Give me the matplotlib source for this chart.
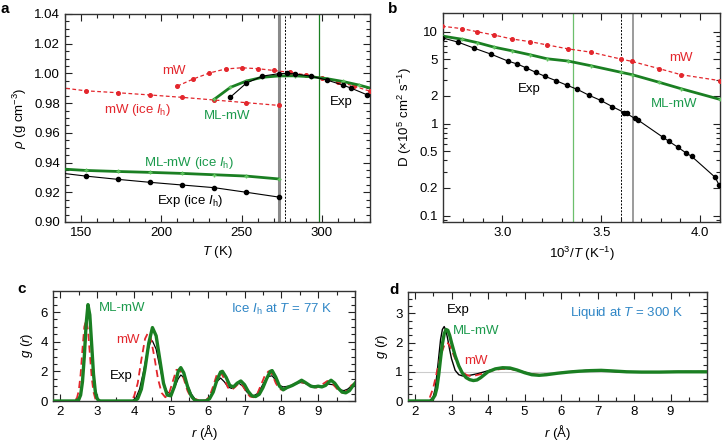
import numpy as np
import matplotlib
matplotlib.use("Agg")
import matplotlib.pyplot as plt
from matplotlib.ticker import MultipleLocator, FixedLocator, NullFormatter, LogLocator

plt.rcParams['font.family'] = ['Liberation Sans', 'DejaVu Sans']
plt.rcParams['mathtext.fontset'] = 'custom'
plt.rcParams['mathtext.rm'] = 'Liberation Sans'
plt.rcParams['mathtext.it'] = 'Liberation Sans:italic'
plt.rcParams['mathtext.bf'] = 'Liberation Sans:bold'
plt.rcParams['font.size'] = 9.5

RED = '#e3262c'
GREEN = '#1a7f22'
GTEXT = '#1b9a4c'
BLUE = '#2f86c6'
GRAY = '#8a8a8a'

# ---------------- panel a data ----------------
T_ice = [153, 173, 193, 213, 233, 253, 273]
rho_exp_ice = [0.9309, 0.9287, 0.9267, 0.9249, 0.9231, 0.9200, 0.9168]
rho_mlmw_ice = [0.9347, 0.9340, 0.9334, 0.9327, 0.9318, 0.9309, 0.9290]
rho_mw_ice = [0.9883, 0.9870, 0.9855, 0.9839, 0.9821, 0.9803, 0.9785]
T_ice_edge = [133]
rho_exp_ice_edge = [0.9335]
rho_mlmw_ice_edge = [0.9360]
rho_mw_ice_edge = [0.9910]

T_mw_liq = [210, 220, 230, 240, 250, 260, 270, 280, 290, 300, 310, 320, 330]
rho_mw_liq = [0.9915, 0.9963, 1.0003, 1.0030, 1.0038, 1.0032, 1.0020, 1.0007, 0.9990, 0.9970, 0.9945, 0.9915, 0.9880]

T_ml_liq = [233, 243, 253, 263, 273, 283, 293, 303, 313, 323, 333]
rho_ml_liq = [0.9826, 0.9906, 0.9949, 0.9974, 0.9983, 0.9984, 0.9978, 0.9965, 0.9946, 0.9922, 0.9893]

T_exp_liq = [243, 253, 263, 273, 278, 283, 293, 303, 313, 318, 328]
rho_exp_liq = [0.9840, 0.9935, 0.9982, 0.9998, 1.0000, 0.9997, 0.9982, 0.9956, 0.9922, 0.9902, 0.9857]

# ---------------- panel b data ----------------
invT_mw = [2.695, 2.797, 2.874, 2.959, 3.049, 3.141, 3.226, 3.332, 3.447, 3.600, 3.656, 3.792, 3.903, 4.098]
D_mw = [11.5, 10.8, 10.0, 9.2, 8.34, 7.8, 7.19, 6.51, 6.0, 5.04, 4.75, 3.97, 3.41, 2.94]
invT_ml = [2.695, 2.797, 2.874, 2.959, 3.049, 3.141, 3.226, 3.332, 3.447, 3.600, 3.656, 3.792, 3.903, 4.098]
D_ml = [9.0, 8.28, 7.61, 6.79, 6.2, 5.61, 5.08, 4.80, 4.27, 3.62, 3.41, 2.82, 2.40, 1.84]
invT_exp = [2.695, 2.777, 2.858, 2.943, 3.028, 3.076, 3.122, 3.168, 3.216, 3.270, 3.326, 3.379, 3.437,
            3.497, 3.556, 3.616, 3.628, 3.669, 3.684, 3.812, 3.843, 3.889, 3.928, 3.957, 4.076, 4.095]
D_exp = [8.6, 7.7, 6.62, 5.70, 4.80, 4.45, 4.03, 3.62, 3.27, 2.94, 2.62, 2.36, 2.04,
         1.79, 1.53, 1.32, 1.29, 1.14, 1.10, 0.71, 0.64, 0.55, 0.48, 0.44, 0.26, 0.215]

# ---------------- panel c data (ice Ih, 77 K) ----------------
r_c_ml = [1.8, 2.4, 2.5, 2.55, 2.6, 2.65, 2.7, 2.75, 2.8, 2.85, 2.9, 2.95, 3.0, 3.05, 3.1,
          4.0, 4.1, 4.2, 4.3, 4.4, 4.5, 4.6, 4.7, 4.8, 4.9, 5.0, 5.1, 5.2, 5.27, 5.35, 5.45, 5.55, 5.65, 5.75,
          5.95, 6.05, 6.15, 6.25, 6.35, 6.4, 6.5, 6.6, 6.7, 6.8, 6.9, 7.0, 7.1, 7.2, 7.3, 7.4, 7.5, 7.6,
          7.7, 7.75, 7.85, 7.95, 8.05, 8.15, 8.3, 8.45, 8.55, 8.65, 8.8, 8.9, 9.0, 9.1, 9.2, 9.3, 9.35,
          9.45, 9.55, 9.65, 9.75, 9.85, 9.95, 10.0]
g_c_ml = [0, 0, 0.1, 0.4, 1.3, 3.0, 5.2, 6.5, 5.8, 3.8, 1.8, 0.6, 0.15, 0.02, 0,
          0, 0.15, 0.8, 2.2, 3.9, 4.95, 4.4, 2.8, 1.2, 0.4, 0.35, 1.0, 2.0, 2.25, 1.9, 1.0, 0.35, 0.05, 0,
          0, 0.15, 0.6, 1.4, 1.95, 2.0, 1.6, 1.05, 0.95, 1.2, 1.35, 1.1, 0.65, 0.35, 0.3, 0.45, 0.9, 1.5,
          2.0, 2.05, 1.6, 1.0, 0.75, 0.9, 1.05, 1.25, 1.4, 1.25, 1.0, 0.95, 1.0, 0.95, 1.05, 1.3, 1.4,
          1.2, 0.85, 0.6, 0.55, 0.7, 1.05, 1.2]
r_c_mw = [1.8, 2.35, 2.45, 2.5, 2.55, 2.6, 2.65, 2.7, 2.75, 2.8, 2.85, 2.9, 2.95, 3.0,
          3.9, 4.0, 4.1, 4.2, 4.3, 4.38, 4.45, 4.55, 4.65, 4.75, 4.85, 4.95, 5.05, 5.15, 5.25, 5.35, 5.45, 5.55,
          5.85, 5.95, 6.05, 6.15, 6.25, 6.35, 6.45, 6.55, 6.65, 6.75, 6.85, 6.95, 7.05, 7.15, 7.25, 7.35,
          7.45, 7.55, 7.65, 7.75, 7.85, 7.95, 8.05, 8.2, 8.35, 8.5, 8.65, 8.8, 8.95, 9.1, 9.25, 9.4, 9.5,
          9.6, 9.7, 9.8, 9.9, 10.0]
g_c_mw = [0, 0, 0.2, 0.7, 1.8, 3.5, 5.0, 5.45, 4.8, 3.2, 1.6, 0.6, 0.15, 0,
          0, 0.3, 1.2, 2.8, 4.2, 4.6, 4.3, 3.0, 1.5, 0.55, 0.25, 0.5, 1.3, 2.1, 2.1, 1.5, 0.7, 0.2,
          0, 0.05, 0.3, 1.0, 1.8, 1.95, 1.5, 0.9, 0.75, 0.95, 1.2, 1.05, 0.6, 0.3, 0.25, 0.5,
          1.1, 1.7, 2.0, 1.8, 1.2, 0.8, 0.75, 0.95, 1.15, 1.3, 1.2, 1.0, 0.9, 1.1, 1.35, 1.15, 0.85,
          0.6, 0.55, 0.75, 1.05, 1.2]
r_c_exp = [1.8, 2.4, 2.5, 2.55, 2.6, 2.65, 2.7, 2.75, 2.8, 2.85, 2.9, 2.95, 3.0, 3.05, 3.1,
           3.95, 4.05, 4.15, 4.25, 4.35, 4.45, 4.5, 4.6, 4.7, 4.8, 4.9, 5.0, 5.1, 5.2, 5.27, 5.35, 5.45, 5.55, 5.65,
           5.75, 5.95, 6.05, 6.15, 6.25, 6.35, 6.45, 6.55, 6.65, 6.75, 6.85, 6.95, 7.05, 7.15, 7.25, 7.35,
           7.45, 7.55, 7.65, 7.75, 7.85, 7.95, 8.05, 8.2, 8.35, 8.5, 8.65, 8.8, 8.95, 9.1, 9.25, 9.4, 9.5,
           9.6, 9.7, 9.8, 9.9, 10.0]
g_c_exp = [0, 0, 0.15, 0.5, 1.3, 2.8, 4.6, 5.8, 5.5, 3.8, 2.0, 0.8, 0.25, 0.05, 0,
           0, 0.2, 0.8, 1.9, 3.2, 4.0, 4.05, 3.5, 2.3, 1.2, 0.6, 0.5, 0.9, 1.5, 1.75, 1.6, 1.1, 0.5, 0.15,
           0.05, 0.05, 0.2, 0.7, 1.3, 1.55, 1.3, 0.95, 0.85, 1.05, 1.2, 1.0, 0.65, 0.4, 0.35, 0.5,
           0.9, 1.35, 1.65, 1.7, 1.4, 1.05, 0.95, 1.0, 1.1, 1.25, 1.2, 1.05, 1.0, 1.0, 1.15, 1.1, 0.9,
           0.75, 0.7, 0.8, 1.0, 1.1]

# ---------------- panel d data (liquid, 300 K) ----------------
r_d_exp = [1.8, 2.4, 2.5, 2.55, 2.6, 2.65, 2.7, 2.75, 2.8, 2.85, 2.9, 2.95, 3.0, 3.1, 3.2, 3.3, 3.4, 3.5,
           3.7, 3.9, 4.1, 4.3, 4.5, 4.7, 4.9, 5.1, 5.3, 5.5, 5.8, 6.1, 6.4, 6.7, 7.0, 7.3, 7.6, 8.0, 8.5, 9.0, 9.5, 10.0]
g_d_exp = [0, 0, 0.15, 0.4, 0.9, 1.5, 2.1, 2.45, 2.55, 2.4, 2.1, 1.75, 1.45, 1.05, 0.9, 0.86, 0.86, 0.88,
           0.93, 1.0, 1.07, 1.1, 1.11, 1.08, 1.02, 0.95, 0.9, 0.89, 0.93, 0.98, 1.02, 1.05, 1.04, 1.02, 1.0, 0.99, 0.99, 1.0, 1.0, 1.0]
r_d_ml = [1.8, 2.45, 2.55, 2.6, 2.65, 2.7, 2.75, 2.8, 2.85, 2.9, 2.95, 3.0, 3.1, 3.2, 3.3, 3.4, 3.5, 3.6,
          3.7, 3.8, 3.9, 4.0, 4.2, 4.4, 4.6, 4.8, 5.0, 5.2, 5.4, 5.6, 5.9, 6.2, 6.5, 6.8, 7.1, 7.4, 7.8, 8.2, 8.7, 9.2, 9.7, 10.0]
g_d_ml = [0, 0, 0.2, 0.45, 0.9, 1.45, 1.95, 2.3, 2.45, 2.42, 2.25, 2.0, 1.55, 1.2, 0.95, 0.8, 0.73, 0.7,
          0.72, 0.8, 0.9, 1.0, 1.1, 1.14, 1.13, 1.06, 0.97, 0.9, 0.88, 0.9, 0.95, 0.99, 1.02, 1.04, 1.05, 1.03, 1.0, 0.99, 0.99, 1.0, 1.0, 1.0]
r_d_mw = [1.8, 2.3, 2.4, 2.5, 2.6, 2.7, 2.8, 2.85, 2.9, 2.95, 3.0, 3.1, 3.2, 3.3, 3.4, 3.5, 3.6, 3.8,
          4.0, 4.2, 4.4, 4.6, 4.8, 5.0, 5.2, 5.4, 5.7, 6.0, 6.4, 6.8, 7.2, 7.6, 8.0, 8.5, 9.0, 9.5, 10.0]
g_d_mw = [0, 0, 0.1, 0.45, 1.0, 1.55, 1.9, 2.0, 1.98, 1.9, 1.75, 1.45, 1.2, 1.0, 0.9, 0.86, 0.86, 0.92,
          1.0, 1.07, 1.1, 1.1, 1.05, 0.98, 0.92, 0.9, 0.92, 0.97, 1.02, 1.04, 1.03, 1.01, 0.99, 0.99, 1.0, 1.0, 1.0]

fig = plt.figure(figsize=(7.22, 4.45), dpi=100)

def style(ax):
    ax.tick_params(which='both', direction='in', top=True, right=True, colors='#222222',
                   labelcolor='black', width=0.8)
    ax.tick_params(which='major', length=5)
    ax.tick_params(which='minor', length=3)
    for s in ax.spines.values():
        s.set_linewidth(1.0)
        s.set_color('#333333')

# ---------------- panel a ----------------
axa = fig.add_axes([65/722, 1-222/445, 305/722, 208/445])
style(axa)
axa.axvline(273.15, color=GRAY, lw=2.2, zorder=1)
axa.axvline(277, color='black', lw=0.7, ls=(0, (2, 1.5)), zorder=1)
axa.axvline(298, color=GREEN, lw=0.9, zorder=1)

axa.plot(T_ice_edge + T_ice, rho_mw_ice_edge + rho_mw_ice, color=RED, lw=0.9, ls=(0, (3, 2)),
         marker='o', ms=2.6, markevery=list(range(1, 8)), zorder=3)
axa.plot(T_mw_liq, rho_mw_liq, color=RED, lw=0.9, ls=(0, (3, 2)), marker='o', ms=2.6, zorder=3)
axa.plot(T_ice_edge + T_ice, rho_mlmw_ice_edge + rho_mlmw_ice, color=GREEN, lw=2.0,
         marker='+', ms=3, mec='#5ec45e', markevery=list(range(1, 8)), zorder=3)
axa.plot(T_ml_liq, rho_ml_liq, color=GREEN, lw=2.0, marker='+', ms=3, mec='#5ec45e', zorder=3)
axa.plot(T_ice_edge + T_ice, rho_exp_ice_edge + rho_exp_ice, color='black', lw=0.8,
         marker='o', ms=3, markevery=list(range(1, 8)), zorder=4)
axa.plot(T_exp_liq, rho_exp_liq, color='black', lw=0.8, marker='o', ms=3, zorder=4)

axa.set_xlim(140, 330)
axa.set_ylim(0.90, 1.04)
axa.xaxis.set_major_locator(FixedLocator([150, 200, 250, 300]))
axa.xaxis.set_minor_locator(MultipleLocator(10))
axa.yaxis.set_major_locator(MultipleLocator(0.02))
axa.yaxis.set_minor_locator(MultipleLocator(0.005))
axa.yaxis.set_major_formatter(plt.FuncFormatter(lambda v, p: f"{v:.2f}"))
axa.set_xlabel('$T$ (K)')
axa.set_ylabel(r'$\rho$ (g cm$^{-3}$)')
axa.text(207.8, 1.0016, 'mW', color=RED, ha='center', va='center')
axa.text(185.3, 0.9754, 'mW (ice $I_\\mathrm{h}$)', color=RED, ha='center', va='center')
axa.text(240.9, 0.9715, 'ML-mW', color=GTEXT, ha='center', va='center')
axa.text(311.9, 0.9805, 'Exp', color='black', ha='center', va='center')
axa.text(217.2, 0.9399, 'ML-mW (ice $I_\\mathrm{h}$)', color=GTEXT, ha='center', va='center')
axa.text(218.2, 0.9143, 'Exp (ice $I_\\mathrm{h}$)', color='black', ha='center', va='center')

# ---------------- panel b ----------------
axb = fig.add_axes([443/722, 1-222/445, 277/722, 209/445])
style(axb)
axb.set_yscale('log')
axb.axvline(1000/298, color='#6cbf6c', lw=0.9, zorder=1)
axb.axvline(1000/277.8, color='black', lw=0.7, ls=(0, (2, 1.5)), zorder=1)
axb.axvline(1000/273.15, color=GRAY, lw=1.2, zorder=1)
axb.plot(invT_mw, D_mw, color=RED, lw=0.9, ls=(0, (3, 2)), marker='o', ms=2.6, zorder=3)
axb.plot(invT_ml, D_ml, color=GREEN, lw=2.0, marker='+', ms=3, mec='#5ec45e', zorder=3)
axb.plot(invT_exp, D_exp, color='black', lw=0.8, marker='o', ms=3, zorder=4)
axb.set_xlim(2.7, 4.1)
axb.set_ylim(0.085, 16)
axb.xaxis.set_major_locator(FixedLocator([3.0, 3.5, 4.0]))
axb.xaxis.set_minor_locator(MultipleLocator(0.1))
axb.xaxis.set_major_formatter(plt.FuncFormatter(lambda v, p: f"{v:.1f}"))
yt = [0.1, 0.2, 0.5, 1, 2, 5, 10]
axb.yaxis.set_major_locator(FixedLocator(yt))
axb.yaxis.set_major_formatter(plt.FuncFormatter(lambda v, p: f"{v:g}"))
axb.yaxis.set_minor_locator(LogLocator(base=10, subs=np.arange(2, 10)))
axb.yaxis.set_minor_formatter(NullFormatter())
axb.set_xlabel('10$^3$/$T$ (K$^{-1}$)')
axb.set_ylabel('D (×10$^5$ cm$^2$ s$^{-1}$)')
axb.text(3.903, 5.17, 'mW', color=RED, ha='center', va='center')
axb.text(3.869, 1.65, 'ML-mW', color=GTEXT, ha='center', va='center')
axb.text(3.138, 2.39, 'Exp', color='black', ha='center', va='center')

# ---------------- panel c ----------------
axc = fig.add_axes([53/722, 1-401/445, 302/722, 110.5/445])
style(axc)
axc.plot(r_c_exp, g_c_exp, color='black', lw=0.9, zorder=2)
axc.plot(r_c_mw, g_c_mw, color=RED, lw=1.3, ls=(0, (4, 2.5)), zorder=3)
axc.plot(r_c_ml, g_c_ml, color=GREEN, lw=2.4, zorder=4)
axc.set_xlim(1.8, 10)
axc.set_ylim(0, 7.45)
axc.xaxis.set_major_locator(FixedLocator(range(2, 10)))
axc.xaxis.set_minor_locator(MultipleLocator(0.5))
axc.yaxis.set_major_locator(MultipleLocator(2))
axc.yaxis.set_minor_locator(MultipleLocator(0.5))
axc.set_xlabel('$r$ (Å)')
axc.set_ylabel('$g$ ($r$)')
axc.text(3.04, 6.27, 'ML-mW', color=GTEXT, ha='left', va='center')
axc.text(3.83, 4.1, 'mW', color=RED, ha='center', va='center')
axc.text(3.64, 1.67, 'Exp', color='black', ha='center', va='center')
axc.text(8.0, 6.15, 'Ice $I_\\mathrm{h}$ at $T$ = 77 K', color=BLUE, ha='center', va='center')

# ---------------- panel d ----------------
axd = fig.add_axes([407.7/722, 1-401/445, 299.3/722, 109.5/445])
style(axd)
axd.axhline(1.0, color='#cccccc', lw=0.8, zorder=1)
axd.plot(r_d_exp, g_d_exp, color='black', lw=1.0, zorder=2)
axd.plot(r_d_mw, g_d_mw, color=RED, lw=1.3, ls=(0, (4, 2.5)), zorder=3)
axd.plot(r_d_ml, g_d_ml, color=GREEN, lw=2.4, zorder=4)
axd.set_xlim(1.8, 10)
axd.set_ylim(0, 3.75)
axd.xaxis.set_major_locator(FixedLocator(range(2, 10)))
axd.xaxis.set_minor_locator(MultipleLocator(0.5))
axd.yaxis.set_major_locator(MultipleLocator(1))
axd.yaxis.set_minor_locator(MultipleLocator(0.25))
axd.set_xlabel('$r$ (Å)')
axd.set_ylabel('$g$ ($r$)')
axd.text(3.18, 3.1, 'Exp', color='black', ha='center', va='center')
axd.text(3.68, 2.41, 'ML-mW', color=GTEXT, ha='center', va='center')
axd.text(3.68, 1.38, 'mW', color=RED, ha='center', va='center')
axd.text(7.81, 3.02, 'Liquid at $T$ = 300 K', color=BLUE, ha='center', va='center')

# panel letters
for lab, x, y in [('a', 5, 9), ('b', 393, 9), ('c', 21.7, 289), ('d', 394, 290)]:
    fig.text(x/722, 1-y/445, lab, fontsize=11, fontweight='bold', ha='center', va='center')

fig.savefig('out.png', dpi=100)
